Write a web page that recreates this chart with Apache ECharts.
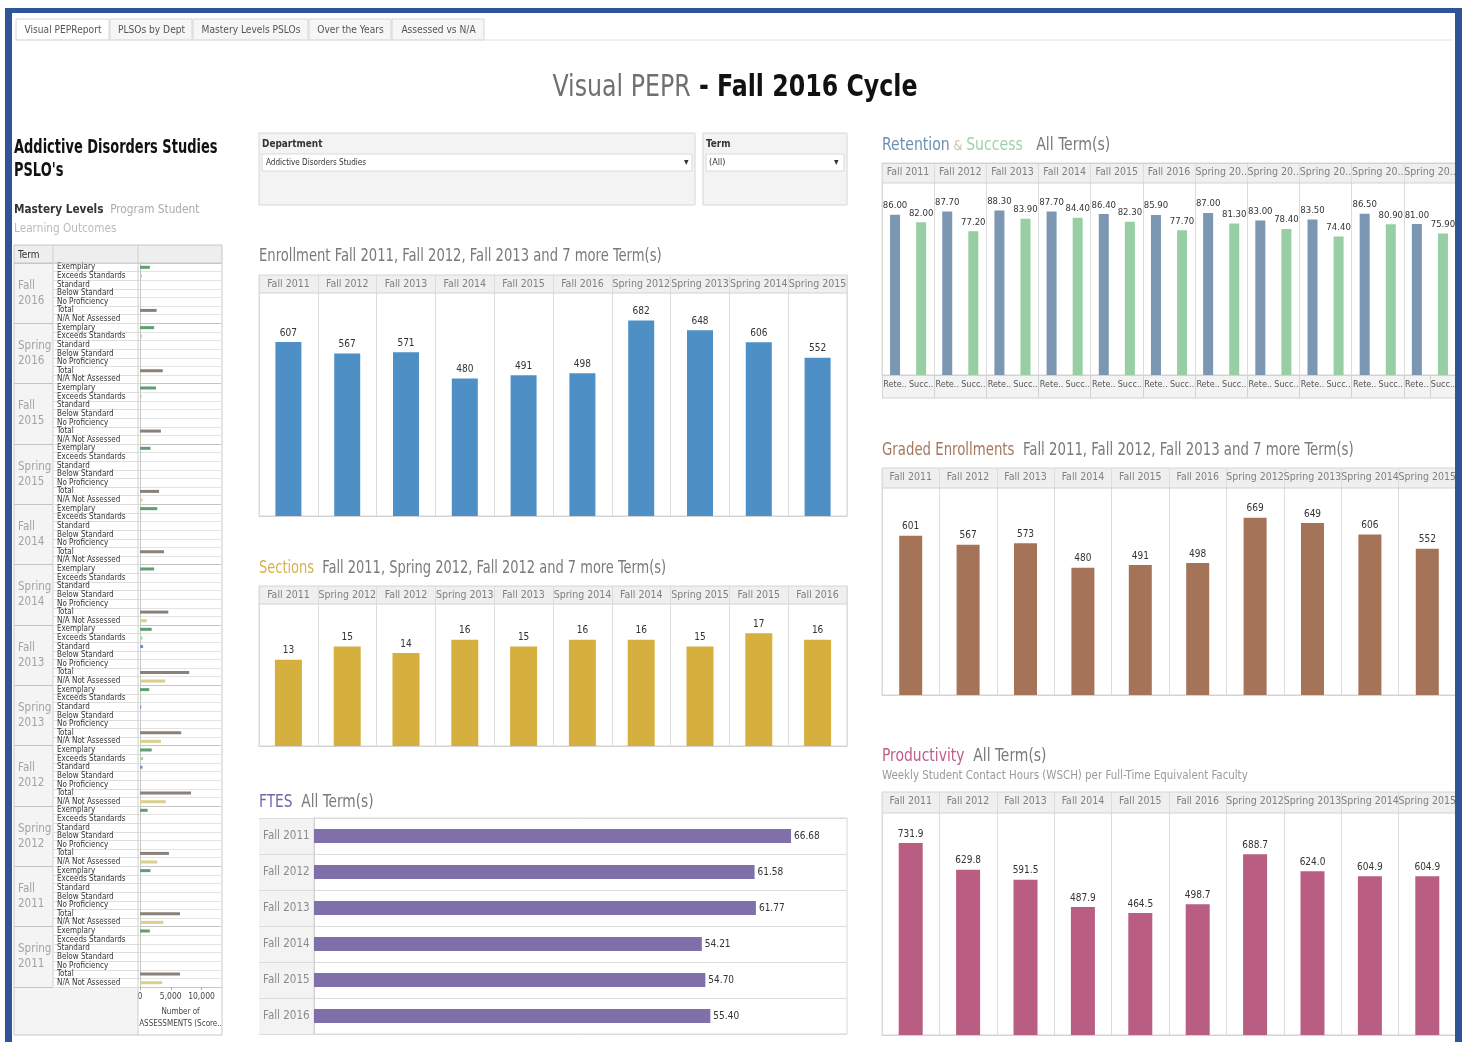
<!DOCTYPE html>
<html><head><meta charset="utf-8">
<script src="https://cdn.jsdelivr.net/npm/echarts@6/dist/echarts.min.js"></script>
<style>html,body{margin:0;padding:0;background:#fff;}#c{width:1468px;height:1042px;}</style>
</head><body><div id="c"></div>
<script>
// ---------------- DATA ----------------
const tabs = ['Visual PEPReport','PLSOs by Dept','Mastery Levels PSLOs','Over the Years','Assessed vs N/A'];
const enrollTerms = ['Fall 2011','Fall 2012','Fall 2013','Fall 2014','Fall 2015','Fall 2016','Spring 2012','Spring 2013','Spring 2014','Spring 2015'];
const enrollment = [607,567,571,480,491,498,682,648,606,552];
const sectionTerms = ['Fall 2011','Spring 2012','Fall 2012','Spring 2013','Fall 2013','Spring 2014','Fall 2014','Spring 2015','Fall 2015','Fall 2016'];
const sections = [13,15,14,16,15,16,16,15,17,16];
const ftesTerms = ['Fall 2011','Fall 2012','Fall 2013','Fall 2014','Fall 2015','Fall 2016'];
const ftes = [66.68,61.58,61.77,54.21,54.70,55.40];
const retTerms = ['Fall 2011','Fall 2012','Fall 2013','Fall 2014','Fall 2015','Fall 2016','Spring 2012','Spring 2013','Spring 2014','Spring 2015','Spring 2016'];
const retMeasures = ['Retention','Success'];
const retention = [86.00,87.70,88.30,87.70,86.40,85.90,87.00,83.00,83.50,86.50,81.00];
const success = [82.00,77.20,83.90,84.40,82.30,77.70,81.30,78.40,74.40,80.90,75.90];
const gradedTerms = ['Fall 2011','Fall 2012','Fall 2013','Fall 2014','Fall 2015','Fall 2016','Spring 2012','Spring 2013','Spring 2014','Spring 2015'];
const graded = [601,567,573,480,491,498,669,649,606,552];
const prodTerms = ['Fall 2011','Fall 2012','Fall 2013','Fall 2014','Fall 2015','Fall 2016','Spring 2012','Spring 2013','Spring 2014','Spring 2015'];
const productivity = [731.9,629.8,591.5,487.9,464.5,498.7,688.7,624.0,604.9,604.9];
const psloTerms = ['Fall 2016','Spring 2016','Fall 2015','Spring 2015','Fall 2014','Spring 2014','Fall 2013','Spring 2013','Fall 2012','Spring 2012','Fall 2011','Spring 2011'];
const masteryLevels = ['Exemplary','Exceeds Standards','Standard','Below Standard','No Proficiency','Total','N/A Not Assessed'];
const exemplary   = [1600,2300,2600,1700,2800,2300,1900,1500,1900,1250,1700,1600];
const exceeds     = [300,300,250,100,200,100,400,200,500,80,200,100];
const standard    = [0,0,0,0,0,0,500,200,400,0,0,0];
const belowStd    = [0,0,0,0,0,0,0,0,0,0,0,0];
const noProf      = [0,0,0,0,0,0,0,0,0,0,0,0];
const total       = [2700,3700,3400,3100,3900,4600,8000,6700,8300,4700,6500,6500];
const notAssessed = [0,200,150,400,0,1100,4100,3400,4200,2800,3800,3600];
const assessTicks = [0,5000,10000];

// ---------------- STYLE ----------------
const FONT = '"Liberation Sans Narrow","DejaVu Sans Condensed","Roboto Condensed","Open Sans",Roboto,sans-serif';
const GREY = '#7a7a7a';
const chart = echarts.init(document.getElementById('c'), null, {renderer:'canvas'});

const G = [];
function rect(x,y,w,h,fill,stroke,z){G.push({type:'rect',silent:true,z:(z===undefined?-5:z),shape:{x,y,width:w,height:h},style:{fill:fill||'none',stroke:stroke||null,lineWidth:1}});}
function line(x1,y1,x2,y2,c,w,z){G.push({type:'line',silent:true,z:(z===undefined?1:z),shape:{x1,y1,x2,y2},style:{stroke:c,lineWidth:w||1}});}
function txt(x,y,text,o,sx){G.push({type:'text',silent:true,z:20,x,y,scaleX:sx||1,style:Object.assign({text,fill:'#333',fontSize:11,fontFamily:FONT,align:'left',verticalAlign:'middle'},o||{})});}

// frame
rect(5,8,1457,5,'#2f5597',null,30);
rect(5,8,7,1034,'#2f5597',null,30);
rect(1455,8,7,1034,'#2f5597',null,30);

// tabs
const tabX = [16,110,193,309,392,485];
tabs.forEach((t,i)=>{
  rect(tabX[i],19,tabX[i+1]-tabX[i]-1,21,i===0?'#ffffff':'#f6f6f6','#d6d6d6');
  txt((tabX[i]+tabX[i+1])/2,30,t,{align:'center',fontSize:11,fill:'#555'},0.92);
});
line(16,40,1452,40,'#e2e2e2',1);

// main title
txt(735,88,'{a|Visual PEPR}{b| - Fall 2016 Cycle}',{align:'center',rich:{
  a:{fontSize:31,fill:'#707070',fontFamily:FONT},
  b:{fontSize:31,fill:'#111',fontWeight:'bold',fontFamily:FONT}}},0.85);

// left panel headings
txt(14,148,'Addictive Disorders Studies',{fontSize:19,fontWeight:'bold',fill:'#111'},0.76);
txt(14,171,"PSLO's",{fontSize:19,fontWeight:'bold',fill:'#111'},0.76);
txt(14,210,'{a|Mastery Levels}{b|  Program Student}',{rich:{a:{fontSize:13,fontWeight:'bold',fill:'#333',fontFamily:FONT},b:{fontSize:13,fill:'#aaa',fontFamily:FONT}}},0.9);
txt(14,229,'Learning Outcomes',{fontSize:13,fill:'#bbb'},0.9);

// left table chrome
rect(14,245,208,18,'#eeeeee');
rect(14,263,39,724,'#f4f4f4');
rect(14,987,124,48,'#f4f4f4');
rect(14,245,208,790,null,'#c8c8c8',5);
line(53,245,53,987,'#cfcfcf',1);
line(138,245,138,1035,'#cfcfcf',1);
line(14,263,222,263,'#c8c8c8',1);
txt(18,255,'Term',{fontSize:10,fill:'#333'});

// filters
rect(259,133,436,72,'#f3f3f3','#d6d6d6');
txt(262,144,'Department',{fontSize:11,fontWeight:'bold',fill:'#333'},0.9);
rect(262,154,430,17,'#ffffff','#dadada',-4);
txt(266,163,'Addictive Disorders Studies',{fontSize:9,fill:'#333'},0.9);
txt(684,162,'\u25BE',{fontSize:10,fill:'#333'});
rect(703,133,144,72,'#f3f3f3','#d6d6d6');
txt(706,144,'Term',{fontSize:11,fontWeight:'bold',fill:'#333'},0.9);
rect(706,154,138,17,'#ffffff','#dadada',-4);
txt(709,163,'(All)',{fontSize:9,fill:'#333'});
txt(834,162,'\u25BE',{fontSize:10,fill:'#333'});

// chart titles
txt(259,257,'Enrollment Fall 2011, Fall 2012, Fall 2013 and 7 more Term(s)',{fontSize:17,fill:GREY},0.86);
txt(259,569,'{a|Sections}{b|  Fall 2011, Spring 2012, Fall 2012 and 7 more Term(s)}',{rich:{a:{fontSize:17,fill:'#d6b24e',fontFamily:FONT},b:{fontSize:17,fill:GREY,fontFamily:FONT}}},0.85);
txt(259,803,'{a|FTES}{b|  All Term(s)}',{rich:{a:{fontSize:17,fill:'#7566a8',fontFamily:FONT},b:{fontSize:17,fill:GREY,fontFamily:FONT}}},0.9);
txt(882,146,'{a|Retention}{c| & }{d|Success}{b|   All Term(s)}',{rich:{a:{fontSize:17,fill:'#6f8fb0',fontFamily:FONT},c:{fontSize:14,fill:'#c9bfa8',fontFamily:FONT},d:{fontSize:17,fill:'#9fd2a8',fontFamily:FONT},b:{fontSize:17,fill:GREY,fontFamily:FONT}}},0.92);
txt(882,451,'{a|Graded Enrollments}{b|  Fall 2011, Fall 2012, Fall 2013 and 7 more Term(s)}',{rich:{a:{fontSize:17,fill:'#a6765a',fontFamily:FONT},b:{fontSize:17,fill:GREY,fontFamily:FONT}}},0.87);
txt(882,757,'{a|Productivity}{b|  All Term(s)}',{rich:{a:{fontSize:17,fill:'#c15b87',fontFamily:FONT},b:{fontSize:17,fill:GREY,fontFamily:FONT}}},0.91);
txt(882,776,'Weekly Student Contact Hours (WSCH) per Full-Time Equivalent Faculty',{fontSize:12,fill:'#9a9a9a'},0.95);

// header bands for column charts
function header(x,y,w,h){rect(x,y,w,h,'#efefef');line(x,y+h,x+w,y+h,'#d2d2d2',1);}
header(259,275,588,18);
header(259,586,588,18);
header(882,163,574,20);
header(882,468,574,20);
header(882,792,574,21);
rect(882,375,574,23,'#f3f3f3');
line(882,398,1456,398,'#d2d2d2',1);
rect(259,818,55,216,'#f3f3f3');

// ---------------- AXES / GRIDS ----------------
const grids = [
  {left:259,top:275,width:588,height:241},
  {left:259,top:586,width:588,height:160},
  {left:314,top:818,width:533,height:216},
  {left:882,top:163,width:574,height:212},
  {left:882,top:468,width:574,height:227},
  {left:882,top:792,width:574,height:243},
  {left:140,top:263,width:81,height:724},
  {left:14,top:263,width:39,height:724}
].map(g=>Object.assign({show:true,borderColor:'#d6d6d6',borderWidth:1,backgroundColor:'transparent'},g));
grids[6].show=false; grids[7].show=false;

function topCat(gi,data,fmt){return {type:'category',gridIndex:gi,position:'top',data,
  axisLine:{show:true,lineStyle:{color:'#d2d2d2'}},axisTick:{show:false},
  axisLabel:{inside:true,interval:0,margin:4,fontSize:10.5,color:'#808080',fontFamily:FONT,formatter:fmt||null,hideOverlap:false},
  splitLine:{show:true,interval:0,lineStyle:{color:'#dcdcdc'}}};}
function hiddenVal(gi,max){return {type:'value',gridIndex:gi,min:0,max,show:false,splitLine:{show:false}};}
const trunc = v => v.length>9 ? v.slice(0,9)+'..' : v;

const retCats = [];
retTerms.forEach(t=>retMeasures.forEach(m=>retCats.push(t+'|'+m)));
const rowNames = [];
psloTerms.forEach(t=>masteryLevels.forEach(m=>rowNames.push(t+'|'+m)));

const xAxis = [
  topCat(0,enrollTerms),
  topCat(1,sectionTerms),
  {type:'value',gridIndex:2,min:0,max:74.5,show:false,splitLine:{show:false}},
  {type:'category',gridIndex:3,position:'bottom',data:retCats,
    axisLine:{show:true,lineStyle:{color:'#d2d2d2'}},
    axisTick:{show:true,interval:1,length:23,lineStyle:{color:'#d2d2d2'}},
    axisLabel:{interval:0,margin:5,fontSize:9,color:'#555',fontFamily:FONT,formatter:v=>v.split('|')[1].slice(0,4)+'..'}},
  topCat(3,retTerms,trunc),
  topCat(4,gradedTerms),
  topCat(5,prodTerms),
  {type:'value',gridIndex:6,min:0,max:13170,interval:5000,
    axisLine:{show:true,lineStyle:{color:'#c8c8c8'}},axisTick:{show:true,length:3,lineStyle:{color:'#aaa'}},
    axisLabel:{fontSize:8.5,color:'#444',fontFamily:FONT,showMaxLabel:false,margin:5,formatter:v=>assessTicks.indexOf(v)>=0?v.toLocaleString('en-US'):''},
    splitLine:{show:false},
    name:'Number of\nASSESSMENTS (Score..',nameLocation:'middle',nameGap:17,
    nameTextStyle:{fontSize:8,color:'#444',fontFamily:FONT,lineHeight:12,verticalAlign:'top'}},
  {type:'value',gridIndex:7,show:false,splitLine:{show:false}}
];
const yAxis = [
  hiddenVal(0,841),
  hiddenVal(1,24.1),
  {type:'category',gridIndex:2,data:ftesTerms,inverse:true,
    axisLine:{show:true,lineStyle:{color:'#d2d2d2'}},
    axisTick:{show:true,interval:0,length:55,lineStyle:{color:'#dcdcdc'}},
    axisLabel:{interval:0,align:'left',margin:51,fontSize:11.5,color:'#8a8a8a',fontFamily:FONT},
    splitLine:{show:true,interval:0,lineStyle:{color:'#dcdcdc'}}},
  hiddenVal(3,113.8),
  hiddenVal(4,857),
  hiddenVal(5,926),
  {type:'category',gridIndex:6,data:rowNames,inverse:true,
    axisLine:{show:true,lineStyle:{color:'#c8c8c8'}},
    axisTick:{show:true,interval:0,length:86,lineStyle:{color:'#dedede'}},
    axisLabel:{interval:0,align:'left',margin:83,fontSize:8,color:'#333',fontFamily:FONT,formatter:v=>v.split('|')[1]},
    splitLine:{show:true,interval:0,lineStyle:{color:['#c4c4c4','#e4e4e4','#e4e4e4','#e4e4e4','#e4e4e4','#e4e4e4','#e4e4e4']}}},
  {type:'category',gridIndex:7,data:psloTerms,inverse:true,
    axisLine:{show:false},axisTick:{show:false},
    axisLabel:{interval:0,inside:true,margin:4,align:'left',fontSize:11.5,lineHeight:15,color:'#a3a3a3',fontFamily:FONT,formatter:v=>v.replace(' ','\n')},
    splitLine:{show:true,interval:0,lineStyle:{color:'#c4c4c4'}}}
];

// ---------------- SERIES ----------------
function colSeries(xi,yi,data,color,bw,fmt){return {type:'bar',xAxisIndex:xi,yAxisIndex:yi,data,barWidth:bw,
  itemStyle:{color},label:{show:true,position:'top',distance:4,fontSize:10,color:'#333',fontFamily:FONT,formatter:fmt||'{c}'},
  silent:true,animation:false};}

const series = [
  colSeries(0,0,enrollment,'#4e90c5',26),
  colSeries(1,1,sections,'#d5b03e',27),
  {type:'bar',xAxisIndex:2,yAxisIndex:2,data:ftes,barWidth:14,itemStyle:{color:'#8070aa'},
    label:{show:true,position:'right',distance:3,fontSize:10,color:'#333',fontFamily:FONT,formatter:p=>p.value.toFixed(2)},animation:false},
  Object.assign(colSeries(3,3,retCats.map((c,i)=>i%2===0?retention[i>>1]:'-'),'#7c97b2',10,p=>p.value.toFixed(2)),{barGap:'-100%',name:'Retention'}),
  Object.assign(colSeries(3,3,retCats.map((c,i)=>i%2===1?success[i>>1]:'-'),'#98cea3',10,p=>p.value.toFixed(2)),{barGap:'-100%',name:'Success'}),
  colSeries(5,4,graded,'#a47358',23),
  colSeries(6,5,productivity,'#b95d82',24,p=>p.value.toFixed(1))
];
series[3].label.fontSize=9.5; series[4].label.fontSize=9.5;

const levelValues = [exemplary,exceeds,standard,belowStd,noProf,total,notAssessed];
const levelColors = ['#5f9e70','#a5d3ad','#6f93c6','#e3a462','#c95f5f','#8a817b','#d8d08c'];
masteryLevels.forEach((lvl,li)=>{
  series.push({type:'bar',name:lvl,xAxisIndex:7,yAxisIndex:6,barWidth:3,barGap:'-100%',
    itemStyle:{color:levelColors[li]},silent:true,animation:false,
    data:rowNames.map((r,idx)=>idx%7===li ? levelValues[li][Math.floor(idx/7)] : '-')});
});

chart.setOption({
  backgroundColor:'#ffffff',
  animation:false,
  grid:grids, xAxis, yAxis, series,
  graphic:{elements:G}
});
</script></body></html>
